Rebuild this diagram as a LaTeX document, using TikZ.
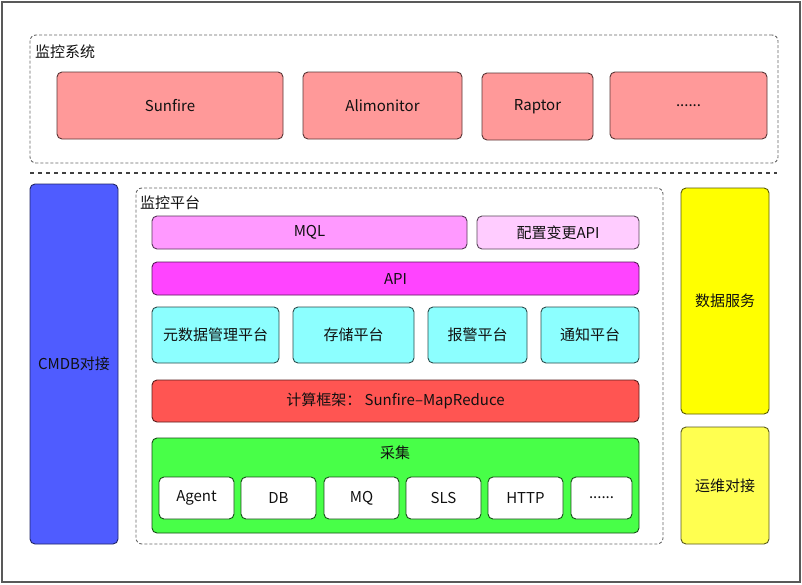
\documentclass[tikz,border=0pt]{standalone}
\usepackage{fontspec}
\setmainfont{Noto Sans CJK SC}
\usetikzlibrary{positioning}
\definecolor{cPink}{HTML}{FF9999}
\definecolor{cBlue}{HTML}{4F5CFF}
\definecolor{cMql}{HTML}{FF99FF}
\definecolor{cCfg}{HTML}{FFCCFF}
\definecolor{cApi}{HTML}{FF44FF}
\definecolor{cCyan}{HTML}{8CFFFF}
\definecolor{cRed}{HTML}{FF5552}
\definecolor{cGreen}{HTML}{48FF48}
\definecolor{cYel}{HTML}{FFFF00}
\definecolor{cYel2}{HTML}{FFFF50}
\definecolor{cText}{HTML}{111111}
\newcommand\mybox[7]{\node[#6, minimum width={#4pt-#2pt}, minimum height={#5pt-#3pt}] (#1) at ({(#2+#4)/2},{(#3+#5)/2}) {#7};}
\tikzset{
  blk/.style={rounded corners=5pt, line width=0.9pt, inner sep=0pt, text=cText, font=\fontsize{15}{18}\selectfont},
  pinkbox/.style={blk, fill=cPink, draw=cPink!35!black},
  bluebox/.style={blk, fill=cBlue, draw=cBlue!40!black},
  mqlbox/.style={blk, fill=cMql, draw=cMql!35!black},
  cfgbox/.style={blk, fill=cCfg, draw=cCfg!35!black},
  apibox/.style={blk, fill=cApi, draw=cApi!35!black},
  cyanbox/.style={blk, fill=cCyan, draw=cCyan!30!black},
  redbox/.style={blk, fill=cRed, draw=cRed!35!black},
  greenbox/.style={blk, fill=cGreen, draw=cGreen!30!black},
  whitebox/.style={blk, fill=white, draw=cGreen!30!black},
  yelbox/.style={blk, fill=cYel, draw=cYel!35!black},
  yel2box/.style={blk, fill=cYel2, draw=cYel2!35!black},
  grp/.style={draw=black!60, dash pattern=on 3pt off 2pt, line width=0.9pt, rounded corners=6pt, inner sep=0pt},
  lbl/.style={text=cText, font=\fontsize{15}{18}\selectfont, inner sep=0pt}
}
\begin{document}
\begin{tikzpicture}[x=1pt,y=-1pt]
\useasboundingbox (0,0) rectangle (802,584);
\fill[white] (0,0) rectangle (802,584);
\draw[line width=1.5pt, draw=black!65] (2,2) rectangle (800,582);
% monitoring systems
\mybox{sys}{30}{35}{778}{163}{grp}{}
\node[lbl, anchor=west] (syslbl) at (35,52) {监控系统};
\mybox{sunfire}{57}{72}{283}{139}{pinkbox}{Sunfire}
\mybox{alimon}{303}{72}{462}{139}{pinkbox}{Alimonitor}
\mybox{raptor}{482}{73}{593}{140}{pinkbox}{Raptor}
\mybox{more1}{610}{72}{767}{139}{pinkbox}{......}
% separator
\coordinate (sepL) at (30,173);
\coordinate (sepR) at (777,173);
\draw[line width=1.5pt, draw=black!75, dash pattern=on 3.5pt off 4.5pt] (sepL) -- (sepR);
% side columns
\mybox{cmdb}{30}{184}{118}{544}{bluebox}{CMDB对接}
\mybox{data}{681}{188}{769}{414}{yelbox}{数据服务}
\mybox{ops}{681}{427}{769}{544}{yel2box}{运维对接}
% platform
\mybox{plat}{136}{188}{663}{544}{grp}{}
\node[lbl, anchor=west] (platlbl) at (140,203) {监控平台};
\mybox{mql}{152}{216}{467}{249}{mqlbox}{MQL}
\mybox{cfg}{477}{216}{639}{249}{cfgbox}{配置变更API}
\mybox{api}{152}{262}{639}{295}{apibox}{API}
\mybox{meta}{152}{307}{279}{363}{cyanbox}{元数据管理平台}
\mybox{store}{293}{307}{414}{363}{cyanbox}{存储平台}
\mybox{alarm}{428}{307}{527}{363}{cyanbox}{报警平台}
\mybox{notify}{541}{307}{639}{363}{cyanbox}{通知平台}
\mybox{compute}{152}{380}{639}{422}{redbox}{计算框架：\ Sunfire–MapReduce}
\mybox{collect}{152}{438}{639}{533}{greenbox}{}
\node[lbl] (colllbl) at (395,453) {采集};
\mybox{agent}{159}{477}{234}{519}{whitebox}{Agent}
\mybox{db}{241}{477}{316}{519}{whitebox}{DB}
\mybox{mq}{324}{477}{399}{519}{whitebox}{MQ}
\mybox{sls}{406}{477}{481}{519}{whitebox}{SLS}
\mybox{http}{488}{477}{563}{519}{whitebox}{HTTP}
\mybox{more2}{571}{477}{632}{519}{whitebox}{......}
\end{tikzpicture}
\end{document}
